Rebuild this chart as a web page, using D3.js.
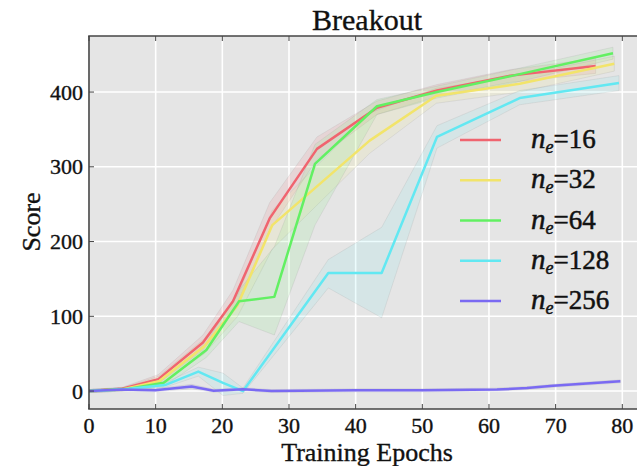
<!DOCTYPE html>
<html>
<head>
<meta charset="utf-8">
<script src="https://cdn.jsdelivr.net/npm/d3@7"></script>
<style>
  body { margin: 0; background: #fff; }
  text, tspan { font-family: "Liberation Serif", "Times New Roman", serif; fill: #111; stroke: #111; stroke-width: 0.35px; }
  .legend-text, .legend-text tspan { stroke-width: 0.5px; }
</style>
</head>
<body>
<svg id="chart" width="637" height="466"></svg>
<script>
// values
const seriesNames = ['16', '32', '64', '128', '256'];
const seriesColors = ['#f0646f', '#f2e46a', '#62f062', '#62e8f2', '#7a6af2'];

const epochs16 = [0, 5, 10.4, 17.1, 21.6, 27.1, 34.2, 43.2, 52.2, 63.2, 76];
const score16  = [0, 3, 16, 65, 120, 231, 324, 379, 402, 422, 435];
const low16    = [-2, 1, 10, 55, 105, 215, 310, 370, 394, 413, 425];
const high16   = [2, 5, 22, 75, 135, 252, 340, 388, 410, 430, 445];

const epochs32 = [0, 5, 10.5, 17.3, 22.3, 27.5, 42.1, 52.1, 64.6, 78.8];
const score32  = [0, 2, 13, 60, 115, 222, 335, 395, 411, 438];
const low32    = [-2, 0, 8, 50, 100, 190, 318, 385, 400, 428];
const high32   = [2, 4, 20, 70, 128, 242, 372, 405, 422, 448];

const epochs64 = [0, 6, 11.2, 17.6, 22.5, 27.8, 33.9, 43.2, 52.2, 63.6, 78.6];
const score64  = [0, 3, 11, 55, 120, 126, 304, 381, 400, 422, 452];
const low64    = [-2, 1, 6, 45, 93, 75, 222, 370, 392, 412, 444];
const high64   = [2, 5, 16, 65, 135, 193, 330, 390, 408, 430, 460];

const epochs128 = [0, 5, 11.4, 16.4, 20.1, 23.1, 35.9, 43.9, 52.2, 64.6, 79.5];
const score128  = [0, 2, 8, 26, 11, 0, 158, 158, 340, 392, 412];
const low128    = [-2, 0, 5, 20, -6, -3, 138, 98, 325, 383, 402];
const high128   = [2, 4, 11, 32, 24, 4, 176, 219, 355, 402, 422];

const epochs256 = [0, 5, 9.9, 15.4, 18.7, 23.1, 27.4, 40, 50, 61.2, 65.7, 69.6, 79.7];
const score256  = [0, 2, 1, 6, 0.5, 2.5, 0, 1, 1, 2, 4, 7, 13];
const low256    = [-2, 0, -1, 3, -1.5, 0.5, -2, -1, -1, 0, 2, 5, 11];
const high256   = [2, 4, 3, 9, 2.5, 4.5, 2, 3, 3, 4, 6, 9, 15];

const xTicks = [0, 10, 20, 30, 40, 50, 60, 70, 80];
const yTicks = [0, 100, 200, 300, 400];

const allEpochs = [epochs16, epochs32, epochs64, epochs128, epochs256];
const allScores = [score16, score32, score64, score128, score256];
const allLows = [low16, low32, low64, low128, low256];
const allHighs = [high16, high32, high64, high128, high256];

const series = seriesNames.map((name, i) => ({
    name: name,
    color: seriesColors[i],
    points: allEpochs[i].map((e, j) => ({
        x: e, y: allScores[i][j], lo: allLows[i][j], hi: allHighs[i][j]
    }))
}));

const svg = d3.select('#chart');
const plot = { left: 89, top: 36, right: 640, bottom: 409 };

const x = d3.scaleLinear().domain([0, 80]).range([plot.left, 622.3]);
const y = d3.scaleLinear().domain([-24, 475]).range([plot.bottom, plot.top]);

svg.append('defs').append('clipPath').attr('id', 'clip')
    .append('rect')
    .attr('x', plot.left).attr('y', plot.top)
    .attr('width', plot.right - plot.left).attr('height', plot.bottom - plot.top);

// background
svg.append('rect')
    .attr('x', plot.left).attr('y', plot.top)
    .attr('width', plot.right - plot.left).attr('height', plot.bottom - plot.top)
    .attr('fill', '#e5e5e5');

// grid
const grid = svg.append('g').attr('clip-path', 'url(#clip)');
grid.selectAll('.gx').data(xTicks).enter().append('line')
    .attr('x1', d => x(d)).attr('x2', d => x(d))
    .attr('y1', plot.top).attr('y2', plot.bottom)
    .attr('stroke', '#fff').attr('stroke-width', 1.6);
grid.selectAll('.gy').data(yTicks).enter().append('line')
    .attr('x1', plot.left).attr('x2', plot.right)
    .attr('y1', d => y(d)).attr('y2', d => y(d))
    .attr('stroke', '#fff').attr('stroke-width', 1.6);

const chart = svg.append('g').attr('clip-path', 'url(#clip)');

const area = d3.area()
    .x(d => x(d.x))
    .y0(d => y(d.lo))
    .y1(d => y(d.hi));

const line = d3.line()
    .x(d => x(d.x))
    .y(d => y(d.y));

chart.selectAll('.band').data(series).enter().append('path')
    .attr('class', 'band')
    .attr('d', d => area(d.points))
    .attr('fill', d => d.color)
    .attr('fill-opacity', 0.12)
    .attr('stroke', '#8a8a8a')
    .attr('stroke-opacity', 0.15)
    .attr('stroke-width', 1);

chart.selectAll('.series').data(series).enter().append('path')
    .attr('class', 'series')
    .attr('d', d => line(d.points))
    .attr('fill', 'none')
    .attr('stroke', d => d.color)
    .attr('stroke-width', 2.5)
    .attr('stroke-linejoin', 'round');

// spines
const spine = '#444';
svg.append('line').attr('x1', plot.left).attr('x2', plot.left)
    .attr('y1', plot.top).attr('y2', plot.bottom)
    .attr('stroke', spine).attr('stroke-width', 1.6);
svg.append('line').attr('x1', plot.left - 0.8).attr('x2', plot.right)
    .attr('y1', plot.bottom).attr('y2', plot.bottom)
    .attr('stroke', spine).attr('stroke-width', 1.6);
svg.append('line').attr('x1', plot.left - 0.8).attr('x2', plot.right)
    .attr('y1', plot.top).attr('y2', plot.top)
    .attr('stroke', spine).attr('stroke-width', 1.3);

// ticks (pointing inward)
svg.selectAll('.tb').data(xTicks).enter().append('line')
    .attr('x1', d => x(d)).attr('x2', d => x(d))
    .attr('y1', plot.bottom).attr('y2', plot.bottom - 5)
    .attr('stroke', spine).attr('stroke-width', 1);
svg.selectAll('.tt').data(xTicks).enter().append('line')
    .attr('x1', d => x(d)).attr('x2', d => x(d))
    .attr('y1', plot.top).attr('y2', plot.top + 5)
    .attr('stroke', spine).attr('stroke-width', 1);
svg.selectAll('.tl').data(yTicks).enter().append('line')
    .attr('x1', plot.left).attr('x2', plot.left + 5)
    .attr('y1', d => y(d)).attr('y2', d => y(d))
    .attr('stroke', spine).attr('stroke-width', 1);

// tick labels
svg.selectAll('.xl').data(xTicks).enter().append('text')
    .attr('x', d => x(d)).attr('y', 433)
    .attr('text-anchor', 'middle')
    .style('font-size', '22px')
    .text(d => d);
svg.selectAll('.yl').data(yTicks).enter().append('text')
    .attr('x', 83).attr('y', d => y(d) + 7.5)
    .attr('text-anchor', 'end')
    .style('font-size', '22px')
    .text(d => d);

// titles
svg.append('text').attr('x', 367).attr('y', 30)
    .attr('text-anchor', 'middle')
    .style('font-size', '30px')
    .text('Breakout');
svg.append('text').attr('x', 367).attr('y', 461)
    .attr('text-anchor', 'middle')
    .style('font-size', '26px')
    .text('Training Epochs');
svg.append('text')
    .attr('transform', 'translate(40,222) rotate(-90)')
    .attr('text-anchor', 'middle')
    .style('font-size', '26px')
    .text('Score');

// legend
const serif = '"Liberation Serif", serif';
const legend = svg.append('g');
const rowY = d3.scaleLinear().domain([0, 4]).range([140, 301]);
const rows = legend.selectAll('.row').data(series).enter().append('g')
    .attr('transform', (d, i) => `translate(0,${rowY(i)})`);
rows.append('line')
    .attr('x1', 460).attr('x2', 501)
    .attr('stroke', d => d.color).attr('stroke-width', 2.5);
const label = rows.append('text')
    .attr('class', 'legend-text')
    .attr('x', 531).attr('y', 8)
    .attr('font-family', serif)
    .style('font-size', '27px');
label.append('tspan').attr('font-family', serif)
    .style('font-style', 'italic').style('font-size', '29px').text('n');
label.append('tspan').attr('font-family', serif)
    .style('font-style', 'italic').style('font-size', '18px')
    .attr('dy', 5).text('e');
label.append('tspan').attr('font-family', serif)
    .attr('dy', -5).text(d => '=' + d.name);
</script>
</body>
</html>
